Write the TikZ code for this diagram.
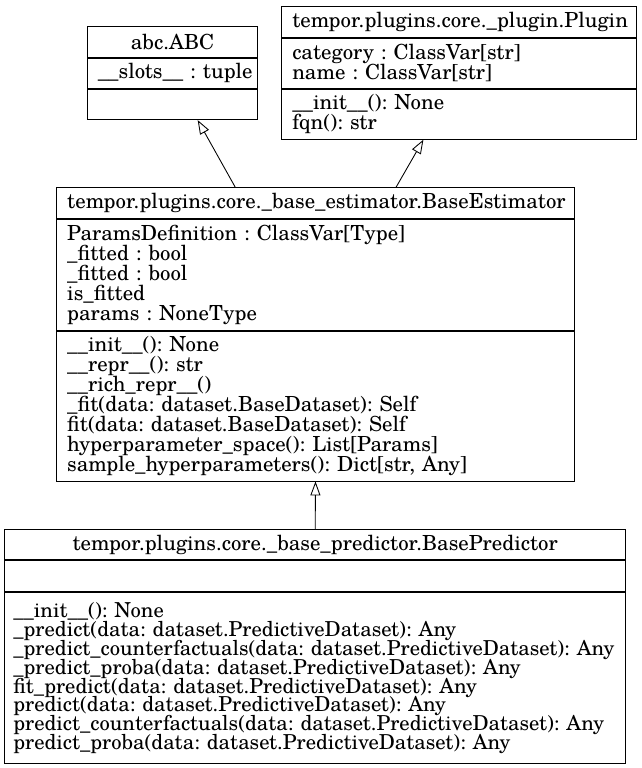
\documentclass[tikz,border=0pt]{standalone}
\usepackage{fontspec}
\setmainfont{TeX Gyre Schola}
\usetikzlibrary{arrows.meta}
\setlength{\parindent}{0pt}
\frenchspacing
\newcommand{\rows}[1]{\vbox{\lineskiplimit=-\maxdimen\let\\\cr\halign{##\hfil\cr#1\crcr}}}
\begin{document}
\begin{tikzpicture}[x=0.75pt,y=-0.75pt,
part/.style={draw,line width=0.6pt,inner xsep=7.9pt,inner ysep=0pt,anchor=north,
  font=\fontsize{15.6}{15}\selectfont},
ttl/.style={part,align=center,text width=#1},
lst/.style={part,text width=#1},
inherit/.style={-{Triangle[open,length=10.5pt,width=7.5pt]},line width=0.65pt}]
\useasboundingbox (0,0) rectangle (642,768);
% abc.ABC
\node[ttl=112pt,minimum height=23.25pt](abcT)at(172.5,25.7){abc.ABC};
\node[lst=112pt,minimum height=22.95pt](abcA)at(abcT.south){\rows{\_\_slots\_\_ : tuple}};
\node[lst=112pt,minimum height=22.8pt](abcM)at(abcA.south){};
% Plugin
\node[ttl=249.9pt,minimum height=23.25pt](plgT)at(458.85,5.7){tempor.plugins.core.\_plugin.Plugin};
\node[lst=249.9pt,minimum height=37.95pt](plgA)at(plgT.south){\rows{category : ClassVar[str]\\name : ClassVar[str]}};
\node[lst=249.9pt,minimum height=37.5pt](plgM)at(plgA.south){\rows{\_\_init\_\_(): None\\fqn(): str}};
% BaseEstimator
\node[ttl=372.4pt,minimum height=22.8pt](estT)at(315.5,187.3){tempor.plugins.core.\_base\_estimator.BaseEstimator};
\node[lst=372.4pt,minimum height=83.5pt](estA)at(estT.south){\rows{ParamsDefinition : ClassVar[Type]\\\_fitted : bool\\\_fitted : bool\\is\_fitted\\params : NoneType}};
\node[lst=372.4pt,minimum height=112.5pt](estM)at(estA.south){\rows{\_\_init\_\_(): None\\\_\_repr\_\_(): str\\\_\_rich\_repr\_\_()\\\_fit(data: dataset.BaseDataset): Self\\fit(data: dataset.BaseDataset): Self\\hyperparameter\_space(): List[Params]\\sample\_hyperparameters(): Dict[str, Any]}};
% BasePredictor
\node[ttl=452.75pt,inner xsep=6.5pt,minimum height=22.7pt](prdT)at(315.2,529){tempor.plugins.core.\_base\_predictor.BasePredictor};
\node[lst=452.75pt,inner xsep=6.5pt,minimum height=23.55pt](prdA)at(prdT.south){};
\node[lst=452.75pt,inner xsep=6.5pt,minimum height=128.25pt,
  font=\fontsize{15.45}{14.1}\selectfont](prdM)at(prdA.south){\rows{\_\_init\_\_(): None\\\_predict(data: dataset.PredictiveDataset): Any\\\_predict\_counterfactuals(data: dataset.PredictiveDataset): Any\\\_predict\_proba(data: dataset.PredictiveDataset): Any\\fit\_predict(data: dataset.PredictiveDataset): Any\\predict(data: dataset.PredictiveDataset): Any\\predict\_counterfactuals(data: dataset.PredictiveDataset): Any\\predict\_proba(data: dataset.PredictiveDataset): Any}};
% inheritance
\draw[inherit]([xshift=-60.15pt]estT.north)--([xshift=18.9pt]abcM.south);
\draw[inherit]([xshift=60.4pt]estT.north)--([xshift=-26.6pt]plgM.south);
\draw[inherit](prdT.north)--(estM.south);
\end{tikzpicture}
\end{document}
